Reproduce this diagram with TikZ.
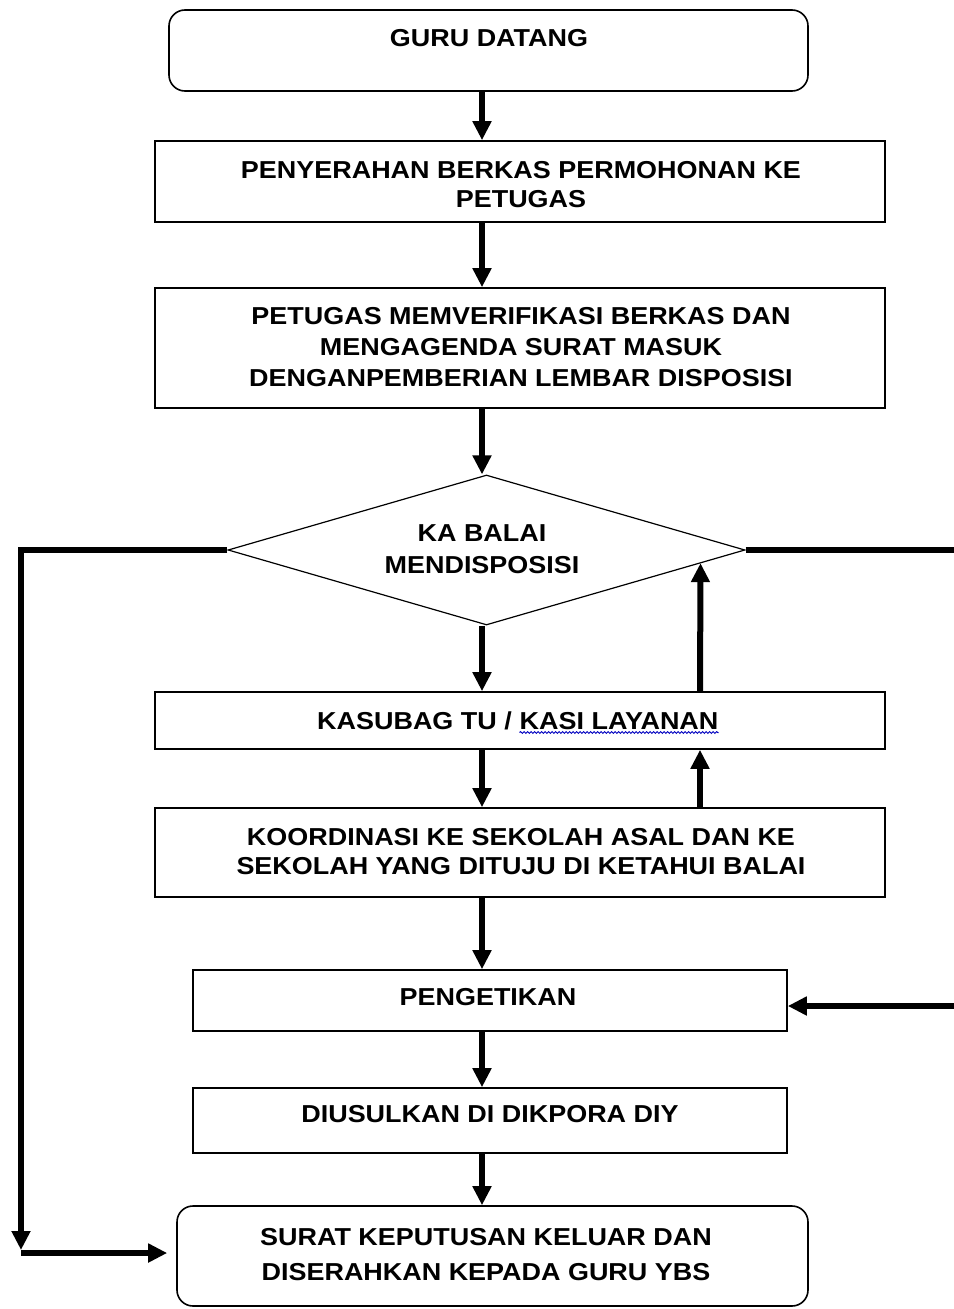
\documentclass[tikz,border=0pt]{standalone}
\usepackage{fontspec}
\setmainfont{Liberation Sans}[FakeStretch=1.1]
\usetikzlibrary{shapes.geometric,arrows.meta,calc,decorations.pathmorphing}
\begin{document}
\begin{tikzpicture}[x=1pt,y=-1pt,
  box/.style={draw,line width=1.6pt,inner sep=0pt},
  rbox/.style={box,rounded corners=16pt},
  lbl/.style={font=\fontsize{24.5pt}{31pt}\selectfont\bfseries,align=center,inner sep=0pt},
  conn/.style={line width=6pt,-{Triangle[width=18pt,length=19pt]}},
  wire/.style={line width=6pt}]
\useasboundingbox (0,0) rectangle (953,1309);
% boxes
\node[rbox,minimum width=639pt,minimum height=81pt] (b1) at (488.5,50.5) {};
\node[box,minimum width=730pt,minimum height=81pt] (b2) at (520,181.5) {};
\node[box,minimum width=730pt,minimum height=120pt] (b3) at (520,348) {};
\node[draw,diamond,line width=1.2pt,inner sep=0pt,minimum width=517pt,minimum height=150pt] (d) at (486.5,550) {};
\node[box,minimum width=730pt,minimum height=57pt] (b4) at (520,720.5) {};
\node[box,minimum width=730pt,minimum height=89pt] (b5) at (520,852.5) {};
\node[box,minimum width=594pt,minimum height=61pt] (b6) at (490,1000.5) {};
\node[box,minimum width=594pt,minimum height=65pt] (b7) at (490,1120.5) {};
\node[rbox,minimum width=631pt,minimum height=100pt] (b8) at (492.5,1256) {};
% texts
\node[lbl] (t1) at (489,38) {GURU DATANG};
\node[lbl,font=\fontsize{24.5pt}{29pt}\selectfont\bfseries] (t2) at (521,185) {PENYERAHAN BERKAS PERMOHONAN KE\\PETUGAS};
\node[lbl] (t3) at (521,347) {PETUGAS MEMVERIFIKASI BERKAS DAN\\MENGAGENDA SURAT MASUK\\DENGANPEMBERIAN LEMBAR DISPOSISI};
\node[lbl,font=\fontsize{24.5pt}{32pt}\selectfont\bfseries] (td) at (482,549) {KA BALAI\\MENDISPOSISI};
\node[lbl,anchor=base west] (t4a) at (317,729) {KASUBAG TU /\ };
\node[lbl,anchor=base west] (t4b) at (t4a.base east) {KASI LAYANAN};
\draw[blue!75!black,line width=1pt,decorate,decoration={snake,amplitude=0.9pt,segment length=3.5pt}]
  ([yshift=-3.5pt]t4b.base west) -- ([yshift=-3.5pt]t4b.base east);
\node[lbl,font=\fontsize{24.5pt}{29pt}\selectfont\bfseries] (t5) at (521,852) {KOORDINASI KE SEKOLAH ASAL DAN KE\\SEKOLAH YANG DITUJU DI KETAHUI BALAI};
\node[lbl] (t6) at (488,997) {PENGETIKAN};
\node[lbl] (t7) at (490,1114) {DIUSULKAN DI DIKPORA DIY};
\node[lbl,font=\fontsize{24.5pt}{35pt}\selectfont\bfseries] (t8) at (486,1255) {SURAT KEPUTUSAN KELUAR DAN\\DISERAHKAN KEPADA GURU YBS};
% helper coordinates
\coordinate (ax) at (482,0);
\coordinate (ux) at (700,0);
\coordinate (dp) at ($(d.east)!0.174!(d.south)$);
\coordinate (L) at (21,1250);
\coordinate (L2) at (21,1253);
\coordinate (R1) at (962,550);
\coordinate (R2) at (962,1006);
% connectors
\draw[conn] (b1.south -| ax) -- (b2.north -| ax);
\draw[conn] (b2.south -| ax) -- (b3.north -| ax);
\draw[conn] (b3.south -| ax) -- (d.north -| ax);
\draw[conn] (d.south -| ax) -- (b4.north -| ax);
\draw[conn] (b4.north -| ux) -- (dp);
\draw[conn] (b4.south -| ax) -- (b5.north -| ax);
\draw[conn] (b5.north -| ux) -- (b4.south -| ux);
\draw[conn] (b5.south -| ax) -- (b6.north -| ax);
\draw[conn] (b6.south -| ax) -- (b7.north -| ax);
\draw[conn] (b7.south -| ax) -- (b8.north -| ax);
\draw[conn] (d.west) -| (L);
\draw[conn,shorten >=9pt] (L2) -- (L2 -| b8.west);
\draw[wire] (d.east) -- (R1) -- (R2);
\draw[conn] (R2) -- (R2 -| b6.east);
\end{tikzpicture}
\end{document}
